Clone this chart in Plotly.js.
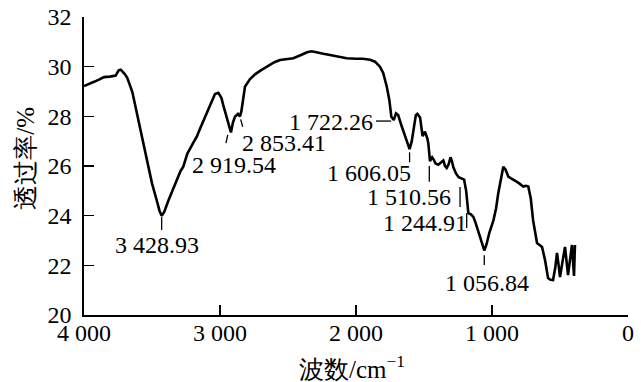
<!DOCTYPE html>
<html>
<head>
<meta charset="utf-8">
<script src="https://cdn.plot.ly/plotly-3.0.1.min.js"></script>
<style>
  html, body { margin: 0; padding: 0; background: #ffffff; }
  #chart { width: 641px; height: 382px; }
</style>
</head>
<body>
<div id="chart"></div>
<script>
// FT-IR transmittance spectrum
const wavenumber = [
  4000, 3960, 3926, 3890, 3853, 3810, 3767, 3745, 3730, 3700, 3682, 3645, 3600, 3539, 3500,
  3466, 3445, 3428.93, 3410, 3380, 3350, 3318, 3290, 3270, 3240, 3200, 3171, 3147, 3100, 3060,
  3037, 3012, 2990, 2976, 2950, 2930, 2919.54, 2905, 2890, 2868, 2853.41, 2843, 2833, 2816, 2779,
  2740, 2700, 2657, 2600, 2559, 2500, 2461, 2400, 2360, 2326, 2280, 2240, 2191, 2130, 2069,
  2000, 1950, 1897, 1860, 1824, 1800, 1774, 1755, 1740, 1722.26, 1706, 1690, 1664, 1640, 1620,
  1606.05, 1590, 1579, 1560, 1549, 1529, 1510.56, 1493, 1475, 1468, 1456, 1440, 1431, 1415, 1395,
  1370, 1358, 1345, 1333, 1320, 1305, 1295, 1284, 1265, 1244.91, 1225, 1205, 1190, 1174, 1155,
  1137, 1120, 1101, 1080, 1056.84, 1040, 1020, 989, 970, 954, 935, 917, 900, 880, 860,
  840, 819, 800, 770, 750, 733, 715, 698, 669, 650, 632, 610, 588, 570, 551,
  535, 522, 510, 500, 480, 463, 441, 425, 412, 397, 390
];
const transmittance = [
  29.22, 29.30, 29.39, 29.48, 29.58, 29.60, 29.64, 29.85, 29.88, 29.70, 29.55, 28.99, 27.80, 26.24, 25.30,
  24.63, 24.20, 24.00, 24.15, 24.60, 25.00, 25.44, 25.80, 25.97, 26.50, 26.90, 27.18, 27.50, 28.10, 28.60,
  28.90, 28.95, 28.75, 28.45, 27.90, 27.50, 27.35, 27.75, 27.98, 28.10, 28.00, 28.20, 28.66, 29.20, 29.50,
  29.70, 29.85, 30.00, 30.18, 30.27, 30.32, 30.34, 30.48, 30.58, 30.62, 30.55, 30.52, 30.47, 30.40, 30.34,
  30.32, 30.32, 30.28, 30.20, 30.00, 29.75, 29.20, 28.66, 27.98, 27.85, 28.12, 28.05, 27.60, 27.18, 26.85,
  26.68, 27.00, 27.45, 28.05, 28.10, 27.95, 27.20, 27.38, 27.10, 26.90, 26.20, 26.35, 26.28, 26.10, 26.05,
  26.15, 26.22, 26.00, 25.92, 26.05, 26.35, 26.20, 25.95, 25.70, 25.55, 25.50, 25.45, 25.00, 24.10, 24.05,
  23.95, 23.70, 23.35, 23.00, 22.60, 22.85, 23.30, 23.82, 24.30, 24.90, 25.50, 25.97, 25.85, 25.57, 25.50,
  25.45, 25.37, 25.30, 25.17, 25.20, 25.17, 24.70, 23.82, 22.90, 22.80, 22.74, 22.21, 21.49, 21.42, 21.41,
  21.90, 22.50, 22.00, 21.53, 22.20, 22.74, 21.61, 22.30, 22.82, 21.57, 22.82
];

// labelled absorption bands (cm^-1)
const peakWavenumbers = [3428.93, 2919.54, 2853.41, 1722.26, 1606.05, 1510.56, 1244.91, 1056.84];

// axis ticks
const xTickValues = [4000, 3000, 2000, 1000, 0];
const xTickLabels = ['4 000', '3 000', '2 000', '1 000', '0'];
const yTickValues = [20, 22, 24, 26, 28, 30, 32];

// "3428.93" -> "3 428.93"
function fmtWavenumber(v) {
  const s = v.toFixed(2);
  const [intPart, dec] = s.split('.');
  const grouped = intPart.replace(/\B(?=(\d{3})+(?!\d))/g, ' ');
  return grouped + '.' + dec;
}

// label placement for each band: text anchor and its leader mark(s)
const placement = {
  3428.93: { tx: 3463, ty: 22.82, anchor: 'center', marks: [[3428.93, 23.95, 3428.93, 23.42]] },
  2919.54: { tx: 2897, ty: 26.04, anchor: 'center', marks: [[2956, 26.92, 2943, 27.25]] },
  2853.41: { tx: 2529, ty: 26.93, anchor: 'center', marks: [[2848, 27.88, 2833, 27.58]] },
  1722.26: { tx: 1862, ty: 27.77, anchor: 'right',  marks: [[1853, 27.81, 1742, 27.81]] },
  1606.05: { tx: 1904, ty: 25.70, anchor: 'center', marks: [[1606.05, 26.55, 1606.05, 26.15], [1461, 26.0, 1461, 25.37]] },
  1510.56: { tx: 1610, ty: 24.75, anchor: 'center', marks: [[1235, 25.15, 1235, 24.35]] },
  1244.91: { tx: 1493, ty: 23.70, anchor: 'center', marks: [[1186, 24.1, 1186, 23.5]] },
  1056.84: { tx: 1040, ty: 21.29, anchor: 'center', marks: [[1056.84, 22.41, 1056.84, 22.01]] }
};

const textFont = 'Liberation Serif';

const annotations = [];
const shapes = [];
peakWavenumbers.forEach(function (w) {
  const p = placement[w];
  annotations.push({
    x: p.tx, y: p.ty, xref: 'x', yref: 'y',
    text: fmtWavenumber(w), showarrow: false,
    xanchor: p.anchor, yanchor: 'middle',
    font: { family: textFont, size: 24, color: '#000' }
  });
  p.marks.forEach(function (m) {
    shapes.push({
      type: 'line', xref: 'x', yref: 'y',
      x0: m[0], y0: m[1], x1: m[2], y1: m[3],
      line: { color: '#000', width: 1.3 }
    });
  });
});

// axis titles
annotations.push({
  xref: 'paper', yref: 'paper', x: -0.107, y: 0.527,
  text: '透过率/%', textangle: -90, showarrow: false,
  xanchor: 'center', yanchor: 'middle',
  font: { family: textFont, size: 25, color: '#000' }
});
annotations.push({
  xref: 'paper', yref: 'paper', x: 0.392, y: -0.175,
  text: '波数/cm<sup>−1</sup>', showarrow: false,
  xanchor: 'left', yanchor: 'middle',
  font: { family: textFont, size: 25, color: '#000' }
});

const trace = {
  x: wavenumber, y: transmittance,
  type: 'scatter', mode: 'lines',
  line: { color: '#000', width: 2.6 },
  hoverinfo: 'skip'
};

const layout = {
  width: 641, height: 382,
  margin: { l: 84, r: 13, t: 17, b: 67 },
  paper_bgcolor: '#fff', plot_bgcolor: '#fff',
  showlegend: false,
  font: { family: textFont, size: 24, color: '#000' },
  xaxis: {
    range: [4000, 0],
    tickmode: 'array', tickvals: xTickValues, ticktext: xTickLabels,
    ticks: 'inside', ticklen: 10, tickwidth: 1.2, tickcolor: '#000',
    showline: true, linewidth: 1.6, linecolor: '#000',
    showgrid: false, zeroline: false,
    ticklabelstandoff: -4,
    tickfont: { family: textFont, size: 24, color: '#000' }
  },
  yaxis: {
    range: [20, 32],
    tickmode: 'array', tickvals: yTickValues,
    ticks: 'inside', ticklen: 10, tickwidth: 1.2, tickcolor: '#000',
    showline: true, linewidth: 1.6, linecolor: '#000',
    showgrid: false, zeroline: false,
    ticklabelstandoff: 6,
    tickfont: { family: textFont, size: 24, color: '#000' }
  },
  annotations: annotations,
  shapes: shapes
};

Plotly.newPlot('chart', [trace], layout, { staticPlot: true, displayModeBar: false });
</script>
</body>
</html>
